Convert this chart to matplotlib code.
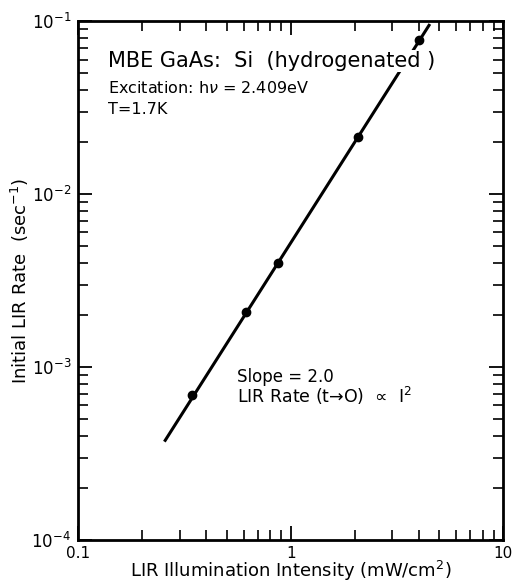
import numpy as np
import matplotlib.pyplot as plt
from matplotlib.ticker import LogLocator, FuncFormatter, NullFormatter

# measured points
intensity = [0.343, 0.614, 0.875, 2.08, 4.02]
lir_rate = [6.9e-4, 2.08e-3, 3.98e-3, 2.15e-2, 7.76e-2]

# slope-2 line drawn through the points
fit_x = [0.257, 4.47]
fit_y = [3.77e-4, 9.46e-2]

xticks = [0.1, 1, 10]
xticklabels = ['0.1', '1', '10']

plt.rcParams['font.family'] = ['DejaVu Sans']

fig = plt.figure(figsize=(5.15, 5.87), dpi=100)
ax = fig.add_axes([0.1515, 0.08, 0.826, 0.884])

ax.plot(fit_x, fit_y, color='black', lw=2.2, zorder=2)
ax.plot(intensity, lir_rate, 'o', color='black', ms=6, zorder=5)

ax.set_xscale('log')
ax.set_yscale('log')
ax.set_xlim(0.1, 10)
ax.set_ylim(1e-4, 1e-1)

ax.set_xticks(xticks)
ax.xaxis.set_major_formatter(FuncFormatter(lambda v, p: xticklabels[xticks.index(v)] if v in xticks else ''))
ax.xaxis.set_minor_locator(LogLocator(base=10, subs=np.arange(2, 10)))
ax.xaxis.set_minor_formatter(NullFormatter())
ax.yaxis.set_minor_locator(LogLocator(base=10, subs=np.arange(2, 10)))
ax.yaxis.set_minor_formatter(NullFormatter())

ax.tick_params(which='both', direction='in', top=True, right=True)
ax.tick_params(which='major', length=10, width=1.3)
ax.tick_params(which='minor', length=7, width=1.2)
ax.tick_params(axis='x', which='major', labelsize=11, pad=4)
ax.tick_params(axis='y', which='major', labelsize=12, pad=5)
for s in ax.spines.values():
	s.set_linewidth(2)

ax.set_xlabel('LIR Illumination Intensity (mW/cm$^2$)', fontsize=13, labelpad=-1)
ax.set_ylabel('Initial LIR Rate  (sec$^{-1}$)', fontsize=13, labelpad=0)

wb = dict(facecolor='white', edgecolor='none', pad=0.5)
ax.text(0.07, 0.923, 'MBE GaAs:  Si  (hydrogenated )', transform=ax.transAxes,
	fontsize=15, va='center', ha='left', bbox=wb, zorder=4)
ax.text(0.07, 0.871, 'Excitation: h$\\nu$ = 2.409eV', transform=ax.transAxes,
	fontsize=11.5, va='center', ha='left')
ax.text(0.07, 0.830, 'T=1.7K', transform=ax.transAxes,
	fontsize=11.5, va='center', ha='left')
ax.text(0.373, 0.314, 'Slope = 2.0', transform=ax.transAxes,
	fontsize=12, va='center', ha='left')
ax.text(0.373, 0.277, 'LIR Rate (t\u2192O)  \u221d  I$^2$', transform=ax.transAxes,
	fontsize=12.5, va='center', ha='left')

fig.savefig('out.png', dpi=100)
